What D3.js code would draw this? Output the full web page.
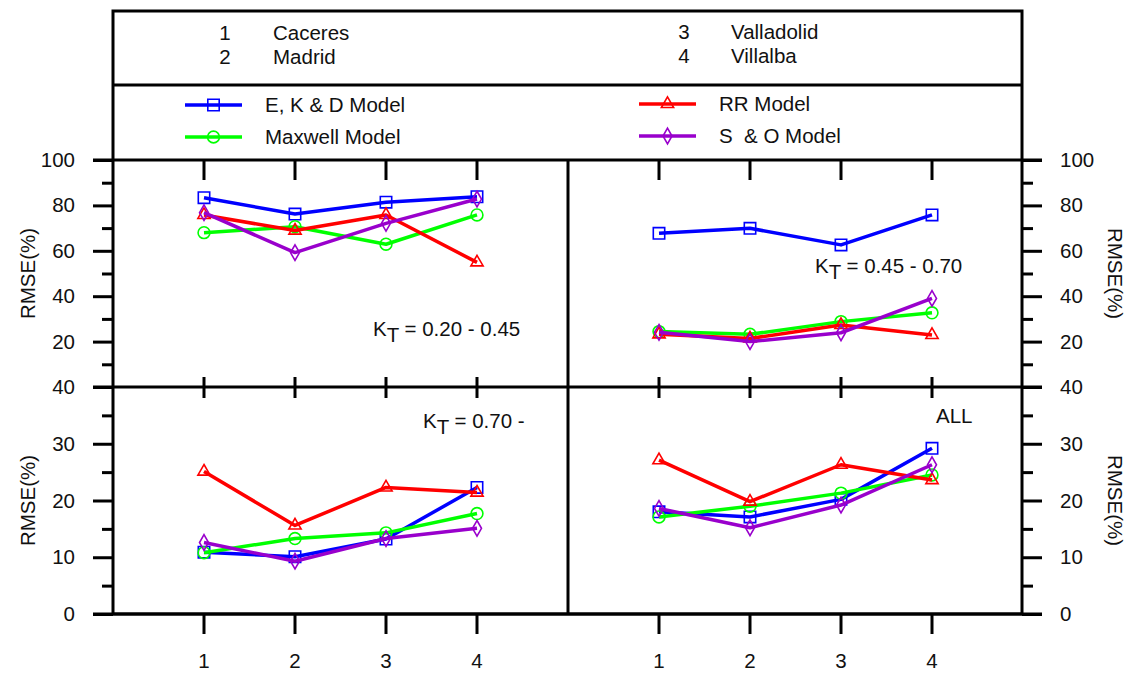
<!DOCTYPE html>
<html>
<head>
<meta charset="UTF-8">
<title>RMSE by station</title>
<script src="https://d3js.org/d3.v7.min.js"></script>
<style>
  body { margin: 0; background: #fff; }
  text { font-family: "Liberation Sans", Arial, sans-serif; fill: #111; }
</style>
</head>
<body>
<div id="chart"></div>
<script>
// station numbers and names
var stations = [1, 2, 3, 4];
var cityNames = ["Caceres", "Madrid", "Valladolid", "Villalba"];
var modelNames = ["E, K & D Model", "Maxwell Model", "RR Model", "S  & O Model"];

// RMSE (%) per station, KT = 0.20 - 0.45
var ekd_020_045 = [83.4, 76.2, 81.4, 83.8];
var maxwell_020_045 = [68.0, 70.6, 62.9, 75.8];
var rr_020_045 = [75.8, 68.9, 75.8, 54.9];
var so_020_045 = [76.8, 59.2, 72.1, 82.8];

// KT = 0.45 - 0.70
var ekd_045_070 = [67.7, 69.9, 62.6, 75.8];
var maxwell_045_070 = [24.4, 23.2, 28.8, 32.7];
var rr_045_070 = [23.2, 21.4, 27.3, 22.9];
var so_045_070 = [24.1, 20.0, 23.9, 39.0];

// KT = 0.70 -
var ekd_070 = [10.9, 10.1, 13.2, 22.3];
var maxwell_070 = [10.8, 13.3, 14.3, 17.7];
var rr_070 = [25.1, 15.6, 22.3, 21.4];
var so_070 = [12.6, 9.3, 13.3, 15.1];

// ALL
var ekd_all = [18.0, 17.1, 20.2, 29.2];
var maxwell_all = [17.1, 19.0, 21.3, 24.5];
var rr_all = [27.1, 19.8, 26.3, 23.6];
var so_all = [18.6, 15.2, 19.2, 26.3];

// tick labels
var topTicks = [20, 40, 60, 80, 100];
var topMinor = [10, 30, 50, 70, 90];
var botTicks = [0, 10, 20, 30, 40];
var botMinor = [5, 15, 25, 35];

var colors = ["#0000ff", "#00ff00", "#ff0000", "#9900cc"];
var symbols = [d3.symbolSquare, d3.symbolCircle, d3.symbolTriangle, d3.symbolDiamond];
var symSizes = [130, 110, 65, 70];

var width = 1141, height = 673;
var L = 113, R = 1022, MID = 568, TOP = 11, DIV = 85, PTOP = 160, PMID = 387, PBOT = 614;
var fs = 20.5;

var svg = d3.select("#chart").append("svg")
    .attr("width", width).attr("height", height);
svg.append("rect").attr("width", width).attr("height", height).attr("fill", "#fff");

var xLeft = d3.scaleLinear().domain([0, 5]).range([L, MID]);
var xRight = d3.scaleLinear().domain([0, 5]).range([MID, R + 1]);
var yTop = d3.scaleLinear().domain([0, 100]).range([PMID, PTOP]);
var yBot = d3.scaleLinear().domain([0, 40]).range([PBOT, PMID]);

var panels = [
    { x: xLeft, y: yTop, series: [ekd_020_045, maxwell_020_045, rr_020_045, so_020_045] },
    { x: xRight, y: yTop, series: [ekd_045_070, maxwell_045_070, rr_045_070, so_045_070] },
    { x: xLeft, y: yBot, series: [ekd_070, maxwell_070, rr_070, so_070] },
    { x: xRight, y: yBot, series: [ekd_all, maxwell_all, rr_all, so_all] }
];

// y axes, major and minor ticks
function yAxes(scale, ticks, minor) {
    [[d3.axisLeft, L], [d3.axisRight, R]].forEach(function (a) {
        var g = svg.append("g").attr("transform", "translate(" + a[1] + ",0)")
            .call(a[0](scale).tickValues(ticks).tickSize(20).tickPadding(18).tickFormat(d3.format("d")));
        g.select(".domain").remove();
        g.selectAll("line").attr("stroke", "#000").attr("stroke-width", 3);
        g.selectAll("text").style("font-size", fs + "px").attr("fill", "#111")
            .attr("font-family", "Liberation Sans, Arial, sans-serif");
        var m = svg.append("g").attr("transform", "translate(" + a[1] + ",0)")
            .call(a[0](scale).tickValues(minor).tickSize(11).tickFormat(""));
        m.select(".domain").remove();
        m.selectAll("line").attr("stroke", "#000").attr("stroke-width", 3);
    });
}
yAxes(yTop, topTicks, topMinor);
yAxes(yBot, botTicks, botMinor);

// x ticks
[xLeft, xRight].forEach(function (xs) {
    stations.forEach(function (s) {
        var px = xs(s);
        [[PTOP, PTOP + 20], [PMID - 10, PMID + 11], [PBOT, PBOT + 20]].forEach(function (t) {
            svg.append("line").attr("x1", px).attr("x2", px).attr("y1", t[0]).attr("y2", t[1])
                .attr("stroke", "#000").attr("stroke-width", 3);
        });
    });
    svg.append("g").selectAll("text").data(stations).enter().append("text")
        .attr("x", function (d) { return xs(d); })
        .attr("y", 668)
        .attr("text-anchor", "middle")
        .style("font-size", fs + "px")
        .text(function (d) { return d; });
});

// frame
var frame = svg.append("g").attr("stroke", "#000").attr("stroke-width", 3).attr("fill", "none");
frame.append("rect").attr("x", L).attr("y", TOP).attr("width", R - L).attr("height", PBOT - TOP);
frame.append("line").attr("x1", L).attr("x2", R).attr("y1", DIV).attr("y2", DIV);
frame.append("line").attr("x1", L - 20).attr("x2", R + 20).attr("y1", PTOP).attr("y2", PTOP);
frame.append("line").attr("x1", L - 20).attr("x2", R + 20).attr("y1", PMID).attr("y2", PMID);
frame.append("line").attr("x1", L - 20).attr("x2", R + 20).attr("y1", PBOT).attr("y2", PBOT);
frame.append("line").attr("x1", MID).attr("x2", MID).attr("y1", PTOP).attr("y2", PBOT);

// data lines and markers
panels.forEach(function (p) {
    p.series.forEach(function (vals, i) {
        var line = d3.line()
            .x(function (d, j) { return p.x(stations[j]); })
            .y(function (d) { return p.y(d); });
        svg.append("path").datum(vals)
            .attr("d", line)
            .attr("fill", "none")
            .attr("stroke", colors[i])
            .attr("stroke-width", 3.5)
            .attr("stroke-linejoin", "round");
        svg.append("g").selectAll("path").data(vals).enter().append("path")
            .attr("d", d3.symbol().type(symbols[i]).size(symSizes[i]))
            .attr("transform", function (d, j) { return "translate(" + p.x(stations[j]) + "," + p.y(d) + ")"; })
            .attr("fill", "none")
            .attr("stroke", colors[i])
            .attr("stroke-width", 1.6);
    });
});

// y axis titles
[273.5, 500.5].forEach(function (cy) {
    svg.append("text").attr("transform", "translate(35," + cy + ") rotate(-90)")
        .attr("text-anchor", "middle").style("font-size", fs + "px").text("RMSE(%)");
    svg.append("text").attr("transform", "translate(1108," + cy + ") rotate(90)")
        .attr("text-anchor", "middle").style("font-size", fs + "px").text("RMSE(%)");
});

// station key
var keyPos = [[225, 273, 40], [225, 273, 64], [684, 731, 39], [684, 731, 63]];
cityNames.forEach(function (c, i) {
    svg.append("text").attr("x", keyPos[i][0]).attr("y", keyPos[i][2])
        .attr("text-anchor", "middle").style("font-size", fs + "px").text(stations[i]);
    svg.append("text").attr("x", keyPos[i][1]).attr("y", keyPos[i][2])
        .style("font-size", fs + "px").text(c);
});

// model legend
var legPos = [[185, 105], [185, 137], [639, 104], [639, 136]];
modelNames.forEach(function (m, i) {
    var lx = legPos[i][0], ly = legPos[i][1];
    svg.append("line").attr("x1", lx).attr("x2", lx + 57).attr("y1", ly).attr("y2", ly)
        .attr("stroke", colors[i]).attr("stroke-width", 3.5);
    svg.append("path").attr("d", d3.symbol().type(symbols[i]).size(symSizes[i]))
        .attr("transform", "translate(" + (lx + 28.5) + "," + ly + ")")
        .attr("fill", "none").attr("stroke", colors[i]).attr("stroke-width", 1.6);
    svg.append("text").attr("x", lx + 80).attr("y", ly + 7)
        .style("font-size", fs + "px").style("white-space", "pre").text(m);
});

// panel annotations
function ktLabel(x, y, rest) {
    var t = svg.append("text").attr("x", x).attr("y", y).style("font-size", fs + "px");
    t.append("tspan").text("K");
    t.append("tspan").attr("dy", 6).text("T");
    t.append("tspan").attr("dy", -6).text(rest);
}
ktLabel(373, 336, " = 0.20 - 0.45");
ktLabel(815, 273, " = 0.45 - 0.70");
ktLabel(423, 428, " = 0.70 -");
svg.append("text").attr("x", 936).attr("y", 423).style("font-size", fs + "px").text("ALL");
</script>
</body>
</html>
